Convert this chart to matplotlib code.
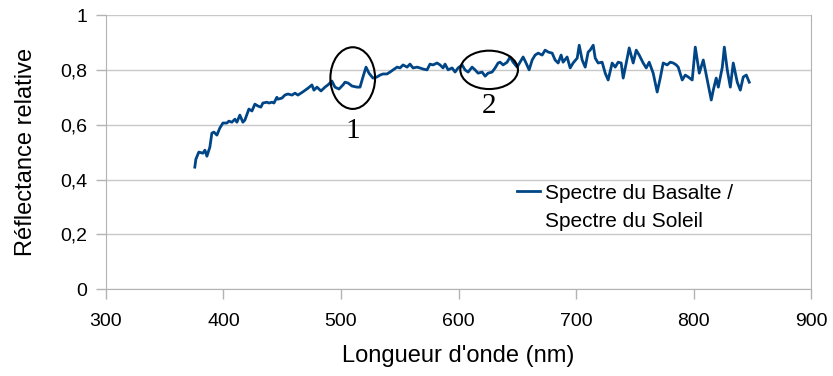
import matplotlib
matplotlib.use("Agg")
import matplotlib.pyplot as plt
from matplotlib.patches import Ellipse

# Spectre du basalte / spectre du soleil
WAVELENGTH = [
    375.7, 376.6, 379.1, 382.6, 384.3, 386.0, 388.5, 390.2, 391.9, 394.5,
    397.0, 399.6, 403.0, 404.7, 407.2, 409.8, 411.5, 414.0, 416.6, 418.3,
    421.7, 424.3, 426.8, 429.4, 431.9, 433.6, 437.0, 438.7, 441.3, 443.0,
    445.5, 446.4, 449.8, 452.3, 454.9, 458.3, 460.9, 463.4, 467.7, 471.9,
    475.3, 477.0, 479.6, 483.0, 486.4, 488.9, 492.3, 494.9, 498.3, 501.7,
    503.4, 506.0, 509.4, 513.6, 516.2, 518.7, 521.3, 523.8, 527.2, 530.6,
    533.2, 535.7, 539.1, 541.7, 544.3, 547.7, 550.2, 552.8, 556.2, 558.7,
    561.3, 564.7, 567.2, 569.8, 573.2, 575.7, 578.3, 581.7, 584.3, 586.8,
    588.5, 591.1, 594.5, 597.0, 599.6, 603.0, 605.5, 608.1, 611.5, 614.0,
    616.6, 620.0, 622.6, 625.1, 628.5, 631.1, 633.6, 635.3, 637.9, 641.3,
    643.8, 646.4, 649.8, 652.3, 654.9, 657.4, 660.0, 662.6, 665.1, 667.7,
    671.1, 673.6, 676.2, 679.6, 682.1, 684.7, 687.2, 688.9, 692.3, 694.9,
    697.4, 700.9, 702.6, 705.1, 707.7, 710.2, 711.9, 714.5, 716.2, 718.7,
    722.1, 724.7, 727.2, 730.6, 733.2, 735.7, 738.3, 740.0, 742.6, 745.1,
    748.5, 751.1, 753.6, 757.0, 759.6, 762.1, 765.5, 768.9, 771.5, 774.0,
    777.4, 780.0, 782.6, 785.1, 786.8, 790.2, 792.8, 795.3, 798.7, 801.3,
    804.7, 808.1, 811.5, 814.9, 816.6, 819.1, 820.9, 824.3, 826.0, 828.5,
    831.1, 833.6, 837.0, 839.6, 842.1, 844.7, 847.2,
]
REFLECTANCE = [
    0.445, 0.474, 0.500, 0.496, 0.507, 0.485, 0.518, 0.569, 0.573, 0.562,
    0.588, 0.606, 0.606, 0.613, 0.609, 0.620, 0.609, 0.635, 0.609, 0.617,
    0.657, 0.650, 0.675, 0.668, 0.664, 0.679, 0.682, 0.679, 0.682, 0.679,
    0.700, 0.693, 0.697, 0.708, 0.712, 0.708, 0.715, 0.708, 0.720, 0.733,
    0.745, 0.726, 0.737, 0.723, 0.737, 0.745, 0.759, 0.737, 0.730, 0.745,
    0.755, 0.752, 0.741, 0.737, 0.737, 0.774, 0.810, 0.788, 0.770, 0.774,
    0.781, 0.785, 0.785, 0.792, 0.800, 0.810, 0.807, 0.818, 0.810, 0.821,
    0.807, 0.810, 0.807, 0.803, 0.800, 0.821, 0.818, 0.825, 0.818, 0.807,
    0.821, 0.800, 0.807, 0.792, 0.807, 0.818, 0.800, 0.792, 0.810, 0.800,
    0.788, 0.792, 0.777, 0.788, 0.792, 0.807, 0.825, 0.828, 0.818, 0.828,
    0.847, 0.828, 0.810, 0.828, 0.847, 0.825, 0.800, 0.836, 0.854, 0.861,
    0.854, 0.872, 0.865, 0.861, 0.836, 0.825, 0.854, 0.828, 0.847, 0.807,
    0.825, 0.843, 0.890, 0.836, 0.810, 0.865, 0.872, 0.890, 0.843, 0.825,
    0.828, 0.788, 0.763, 0.825, 0.810, 0.828, 0.825, 0.770, 0.825, 0.880,
    0.825, 0.872, 0.854, 0.825, 0.807, 0.828, 0.788, 0.719, 0.770, 0.825,
    0.818, 0.828, 0.825, 0.818, 0.810, 0.763, 0.781, 0.774, 0.763, 0.883,
    0.788, 0.836, 0.763, 0.690, 0.726, 0.770, 0.737, 0.810, 0.883, 0.800,
    0.737, 0.825, 0.755, 0.726, 0.774, 0.781, 0.755,
]
X_TICKS = [300, 400, 500, 600, 700, 800, 900]
Y_TICKS = [0, 0.2, 0.4, 0.6, 0.8, 1]
Y_TICK_LABELS = ["0", "0,2", "0,4", "0,6", "0,8", "1"]

# zones annotées: (centre x, centre y, largeur, hauteur, label, y du label)
ZONES = [
    (510.0, 0.77, 38, 0.225, "1", 0.625),
    (626.0, 0.80, 49, 0.14, "2", 0.716),
]

plt.rcParams["font.family"] = ["Liberation Sans", "DejaVu Sans"]
GRID = "#b3b3b3"
BLUE = "#004586"

fig = plt.figure(figsize=(8.33, 3.76), dpi=100)
ax = fig.add_axes([0.127, 0.231, 0.847, 0.729])

ax.plot(WAVELENGTH, REFLECTANCE, color=BLUE, linewidth=2.0,
        label="Spectre du Basalte /", zorder=3)

for cx, cy, w, h, lab, ly in ZONES:
    ax.add_patch(Ellipse((cx, cy), w, h, fill=False, edgecolor="black",
                         linewidth=1.5, zorder=4))
    ax.text(cx, ly, lab, ha="center", va="top",
            fontsize=21, family=["Liberation Serif", "DejaVu Serif"])

ax.set_xlim(300, 900)
ax.set_ylim(0, 1)
ax.set_xticks(X_TICKS)
ax.set_yticks(Y_TICKS)
ax.set_yticklabels(Y_TICK_LABELS)
ax.tick_params(axis="both", labelsize=14, color=GRID, length=7.5, width=1,
               direction="out")
ax.tick_params(axis="x", pad=10)
ax.tick_params(axis="y", pad=6)
ax.yaxis.grid(True, color="#c8c8c8", linewidth=1)
ax.set_axisbelow(True)

for side in ["left", "bottom", "right"]:
    ax.spines[side].set_color(GRID)
ax.spines["top"].set_visible(False)

ax.set_xlabel("Longueur d'onde (nm)", fontsize=17)
ax.set_ylabel("Réflectance relative", fontsize=17)
ax.xaxis.set_label_coords(0.5, -0.205)
ax.yaxis.set_label_coords(-0.097, 0.5)

# legend: handle sits on the first line, second line below it
ax.legend(loc="center left", bbox_to_anchor=(0.583, 0.35), frameon=False,
          fontsize=15, handlelength=1.1, handletextpad=0.25,
          borderpad=0, borderaxespad=0)
ax.text(0.623, 0.245, "Spectre du Soleil", transform=ax.transAxes,
        fontsize=15, ha="left", va="center")

fig.savefig("out.png", dpi=100)
